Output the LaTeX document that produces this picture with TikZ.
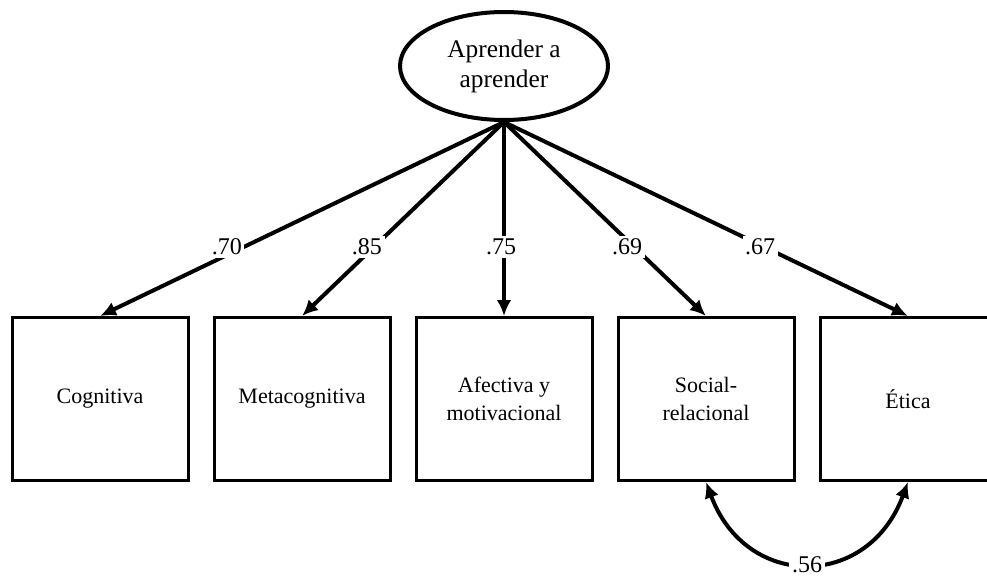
\documentclass[tikz,border=0pt]{standalone}
\usepackage{fontspec}
\setmainfont{Liberation Serif}
\usetikzlibrary{shapes.geometric, positioning, arrows.meta}

\begin{document}
\begin{tikzpicture}[x=0.75pt, y=-0.75pt,
  factor/.style={ellipse, draw, line width=3pt, minimum width=156pt, minimum height=81pt, inner sep=0pt, align=center, font=\fontsize{19}{22.5}\selectfont},
  dim/.style={rectangle, draw, line width=2.25pt, minimum width=132pt, minimum height=122.25pt, align=center, font=\fontsize{16.5}{21}\selectfont},
  load/.style={line width=3pt, -{Latex[length=12pt,width=11pt]}},
  corr/.style={line width=3pt, {Latex[length=12pt,width=11pt]}-{Latex[length=12pt,width=11pt]}},
  coef/.style={fill=white, inner sep=2pt, font=\fontsize{18}{20}\selectfont}]
\useasboundingbox (0,0) rectangle (987,582);
\clip (0,0) rectangle (987,582); % Etica box runs off the right edge

\node[factor] (apr) at (504,66) {Aprender a\\aprender};

\node[dim] (cog) at (100,399) {Cognitiva};
\node[dim, right=17.25pt of cog] (meta) {Metacognitiva};
\node[dim, right=17.25pt of meta] (afe) {Afectiva y\\motivacional};
\node[dim, right=17.25pt of afe] (soc) {Social-\\relacional};
\node[dim, right=17.25pt of soc] (eti) {Ética};

\draw[load] (apr.south) -- (cog.north) node[coef, pos=.644, xshift=-12.75pt] {.70};
\draw[load] (apr.south) -- (meta.north) node[coef, pos=.644, xshift=-5.25pt] {.85};
\draw[load] (apr.south) -- (afe.north) node[coef, pos=.644, xshift=-2.25pt] {.75};
\draw[load] (apr.south) -- (soc.north) node[coef, pos=.644, xshift=-5.25pt] {.69};
\draw[load] (apr.south) -- (eti.north) node[coef, pos=.644, xshift=-3pt] {.67};

\draw[corr] (soc.south) .. controls +(40,108) and +(-40,108) .. (eti.south)
  node[coef, pos=.5, yshift=-1.5pt] {.56};
\end{tikzpicture}
\end{document}
